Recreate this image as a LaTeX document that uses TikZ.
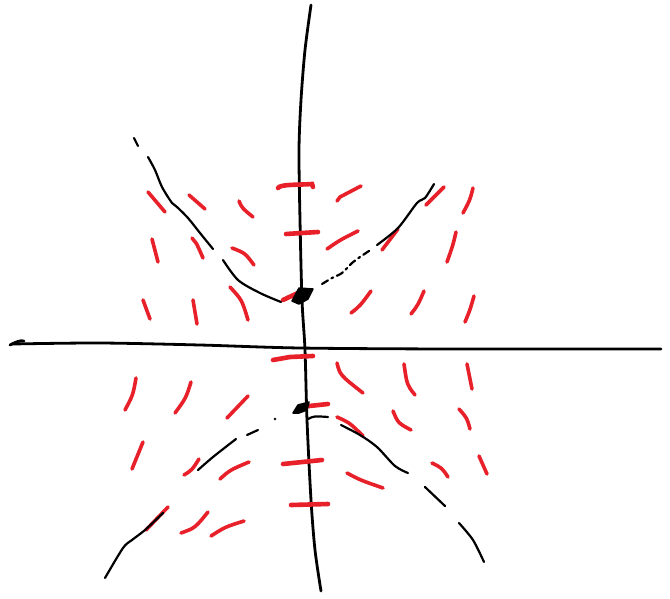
\documentclass[tikz,border=0pt]{standalone}
\definecolor{sred}{HTML}{E8202A}
\tikzset{
  redmark/.style={draw=sred, line width=3.6pt, line cap=round},
  tickmark/.style={draw=sred, line width=4.6pt, line cap=round},
  sol/.style={draw=black, line width=2.2pt, line cap=round, line join=round},
  axisline/.style={draw=black, line width=2.8pt, line cap=round},
  blob/.style={fill=black, draw=black, line width=1.5pt, line join=round},
}
\begin{document}
\begin{tikzpicture}[x=1pt,y=-1pt]
\path[fill=white] (0,0) rectangle (670,598);
\useasboundingbox (0,0) rectangle (670,598);
% axes
\draw[axisline] plot[smooth] coordinates {(311,5) (305,50) (301,100) (299,150) (300,220) (302,300) (305,350) (307,420) (311,500) (315,550) (321,591)};
\draw[axisline] plot[smooth] coordinates {(12,344) (100,343) (200,345) (300,348) (450,349) (661,349)};
\draw[axisline] (10,345) .. controls (16,342) and (20,340) .. (24,341);
% red ticks on vertical axis
\draw[tickmark] (278,188) .. controls (280,184) and (300,185) .. (312,184) -- (313,187);
\draw[tickmark] (286,234) -- (318,232);
\draw[tickmark] (283,300) -- (300,292);
\draw[tickmark] (273,360) -- (290,357) -- (313,356);
\draw[tickmark] (300,407) -- (328,404);
\draw[tickmark] (283,464) -- (322,460);
\draw[tickmark] (291,505) -- (328,504);
% red slope marks, upper left
\draw[redmark] (148,192) -- (165,212);
\draw[redmark] (189,195) -- (205,209);
\draw[redmark] (239,201) .. controls (242,208) .. (253,217);
\draw[redmark] (152,239) -- (158,262);
\draw[redmark] (192,238) .. controls (196,242) .. (203,258);
\draw[redmark] (232,248) .. controls (245,253) .. (254,265);
\draw[redmark] (143,300) -- (150,319);
\draw[redmark] (193,300) -- (197,324);
\draw[redmark] (230,287) .. controls (242,300) .. (248,320);
% upper right
\draw[redmark] (337,201) -- (340,197) -- (361,186);
\draw[redmark] (327,249) .. controls (340,240) .. (358,231);
\draw[redmark] (382,250) -- (398,229);
\draw[redmark] (426,205) -- (444,187);
\draw[redmark] (463,213) .. controls (470,200) .. (473,188);
\draw[redmark] (447,262) .. controls (453,245) .. (456,232);
\draw[redmark] (351,313) .. controls (360,306) .. (371,291);
\draw[redmark] (411,314) .. controls (418,305) .. (424,291);
\draw[redmark] (465,322) .. controls (470,310) .. (474,296);
% lower left
\draw[redmark] (125,410) .. controls (133,395) .. (136,378);
\draw[redmark] (175,413) .. controls (186,398) .. (191,382);
\draw[redmark] (227,418) -- (248,396);
\draw[redmark] (132,469) -- (143,442);
\draw[redmark] (184,475) .. controls (192,470) .. (199,459);
\draw[redmark] (220,479) .. controls (230,470) .. (249,462);
\draw[redmark] (146,530) -- (168,507);
\draw[redmark] (181,533) .. controls (195,528) .. (208,512);
\draw[redmark] (211,536) .. controls (225,527) .. (244,521);
% lower right
\draw[redmark] (337,363) .. controls (340,375) .. (363,393);
\draw[redmark] (404,364) .. controls (407,385) .. (415,395);
\draw[redmark] (467,364) -- (472,389);
\draw[redmark] (337,417) .. controls (350,423) .. (363,436);
\draw[redmark] (393,411) .. controls (398,423) .. (411,430);
\draw[redmark] (459,409) .. controls (467,418) .. (470,429);
\draw[redmark] (347,473) .. controls (360,480) .. (383,488);
\draw[redmark] (432,463) .. controls (442,468) .. (448,477);
\draw[redmark] (479,456) -- (487,474);
% black solution curves, upper
\draw[sol] (134,138) -- (138,146);
\draw[sol] plot[smooth] coordinates {(148,157) (155,170) (162,187) (172,203) (177,207) (188,218) (200,233) (213,249)};
\draw[sol] plot[smooth] coordinates {(223,260) (238,280) (260,293) (281,302)};
\draw[sol, dash pattern=on 7pt off 4pt on 2pt off 4pt] plot[smooth] coordinates {(322,284) (332,278) (342,273) (352,263) (360,257) (372,249)};
\draw[sol] plot[smooth] coordinates {(377,245) (398,228) (417,203) (425,198) (434,184)};
\draw[blob] (299,288) -- (313,289) -- (308,299) -- (299,304) -- (292,301) -- cycle;
% lower
\draw[sol] plot[smooth] coordinates {(105,578) (123,548) (132,540) (145,530) (163,513)};
\draw[sol] plot[smooth] coordinates {(198,470) (213,457) (236,439)};
\draw[sol] (247,435) -- (258,430);
\fill[black] (275,419) circle (1.3);
\draw[blob] (293,413) -- (298,405) -- (309,402) -- (307,410) -- (299,413) -- cycle;
\draw[sol] (308,419) .. controls (314,416) .. (328,417);
\draw[sol] plot[smooth] coordinates {(341,425) (360,435) (377,447) (395,466) (408,473)};
\draw[sol] (425,487) -- (445,506);
\draw[sol] plot[smooth] coordinates {(459,523) (473,540) (484,562)};
\end{tikzpicture}
\end{document}
